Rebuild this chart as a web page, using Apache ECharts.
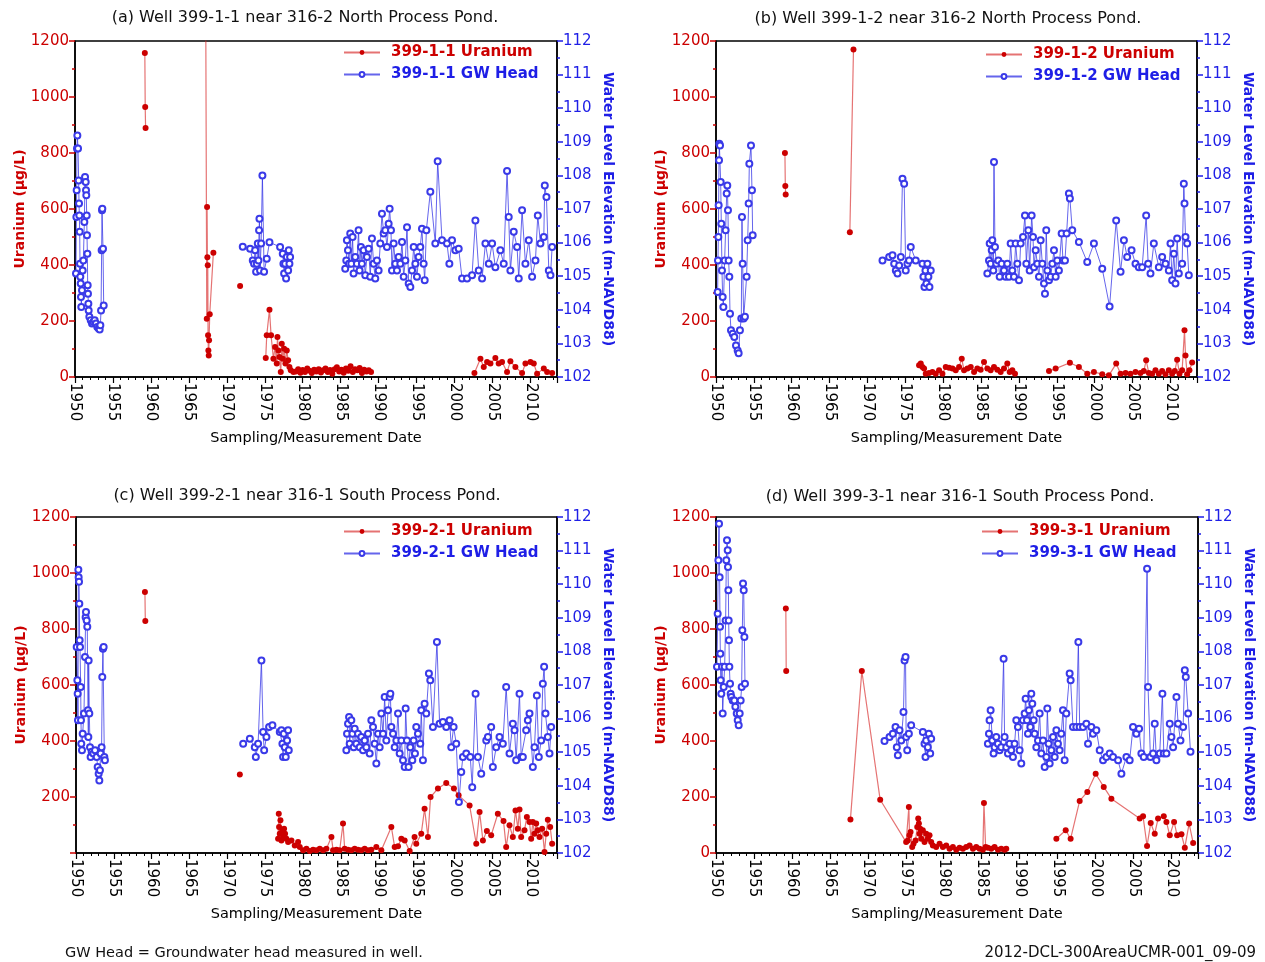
<!DOCTYPE html>
<html><head><meta charset="utf-8">
<script src="https://cdn.jsdelivr.net/npm/echarts@6/dist/echarts.min.js"></script>
<style>html,body{margin:0;padding:0;background:#fff}#c{width:1265px;height:962px}</style>
</head><body><div id="c"></div>
<script>
// ---------- DATA (year, value) ; each inner list is a continuous measured segment ----------
const titles = [
  "(a) Well 399-1-1 near 316-2 North Process Pond.",
  "(b) Well 399-1-2 near 316-2 North Process Pond.",
  "(c) Well 399-2-1 near 316-1 South Process Pond.",
  "(d) Well 399-3-1 near 316-1 South Process Pond."
];
const wells = ["399-1-1", "399-1-2", "399-2-1", "399-3-1"];
const xTicks = [1950,1955,1960,1965,1970,1975,1980,1985,1990,1995,2000,2005,2010];

// Uranium (ug/L)
const uraniumA = [
  [[1959.2,1157],[1959.25,964],[1959.3,889]],
  [[1967.2,1500],[1967.36,208],[1967.4,607],[1967.44,428],[1967.49,399],[1967.53,149],[1967.57,95],[1967.62,77],[1967.66,131],[1967.75,224],[1968.23,444]],
  [[1971.75,325]],
  [[1975.13,68],[1975.26,149],[1975.62,240],[1975.83,149],[1976.14,65],[1976.36,107],[1976.58,48],[1976.67,143],[1976.8,95],[1976.93,71],[1977.11,18],[1977.24,119],[1977.37,65],[1977.55,101],[1977.72,48],[1977.9,95],[1978.08,60],[1978.25,36],[1978.43,24],[1978.78,18],
   [1979.1,20],[1979.4,28],[1979.7,15],[1980.0,25],[1980.3,18],[1980.6,30],[1980.9,22],[1981.2,14],[1981.5,26],[1981.8,20],[1982.1,28],[1982.4,16],[1982.7,24],[1983.0,30],[1983.3,18],[1983.6,25],[1983.9,12],[1984.2,28],[1984.5,35],[1984.8,20],[1985.1,26],[1985.4,15],[1985.7,30],[1986.0,22],[1986.3,38],[1986.6,18],[1986.9,28],[1987.2,24],[1987.5,32],[1987.8,14],[1988.1,26],[1988.4,20],[1988.7,24],[1989.0,18]],
  [[2002.62,14],[2003.41,65],[2003.85,36],[2004.29,54],[2004.73,48],[2005.38,68],[2005.82,48],[2006.26,54],[2006.92,18],[2007.36,56],[2008.02,36],[2008.9,14],[2009.34,48],[2010.0,54],[2010.44,48],[2010.88,12],[2011.76,30],[2012.2,18],[2012.86,14]]
];
const uraniumB = [
  [[1959.1,800],[1959.15,682],[1959.2,652]],
  [[1967.67,517],[1968.15,1170]],
  [[1976.81,42],[1977.03,48],[1977.25,36],[1977.47,30],[1977.69,12],[1978.13,14],[1978.57,18],[1979.01,12],[1979.45,24],[1979.89,12],[1980.33,36],[1980.77,33],[1981.21,30],[1981.65,24],[1982.09,36],[1982.44,65],[1982.75,24],[1983.19,30],[1983.63,36],[1984.07,18],[1984.5,30],[1984.94,26],[1985.38,54],[1985.82,30],[1986.26,24],[1986.7,36],[1987.14,26],[1987.58,18],[1988.02,30],[1988.46,48],[1988.77,18],[1989.12,24],[1989.47,12]],
  [[1993.96,21],[1994.84,30],[1996.72,51],[1997.91,36],[1999.01,12],[1999.89,18],[2000.99,10],[2001.87,6],[2002.83,48],[2003.41,12],[2004.07,14],[2004.72,12],[2005.38,18],[2006.04,14],[2006.48,21],[2006.79,60],[2007.14,14],[2007.58,12],[2008.02,24],[2008.46,12],[2008.9,21],[2009.34,10],[2009.78,24],[2010.22,12],[2010.57,21],[2010.88,62],[2011.19,12],[2011.54,24],[2011.85,167],[2011.98,77],[2012.2,10],[2012.5,24],[2012.86,52]]
];
const uraniumC = [
  [[1959.1,932],[1959.15,829]],
  [[1971.63,280]],
  [[1976.68,51],[1976.77,140],[1976.81,93],[1976.9,69],[1976.99,117],[1977.12,45],[1977.25,81],[1977.34,57],[1977.47,87],[1977.6,69],[1977.78,51],[1978.0,39],[1978.44,45],[1978.88,27],[1979.32,39],[1979.54,21],
   [1979.98,10],[1980.42,15],[1980.86,7],[1981.3,12],[1981.74,10],[1982.18,15],[1982.62,10],[1983.06,15],[1983.72,57],[1983.94,10],[1984.38,12],[1984.81,10],[1985.25,105],[1985.47,15],[1985.91,12],[1986.35,10],[1986.79,15],[1987.23,12],[1987.67,10],[1988.11,15],[1988.55,10],[1988.99,12],[1989.65,21],[1990.31,10],[1991.63,93],[1992.07,21],[1992.51,24],[1992.95,51],[1993.39,45],[1994.05,7],[1994.7,57],[1994.92,33],[1995.58,69],[1996.02,158],[1996.46,57],[1996.81,200],[1997.78,230],[1998.88,250],[1999.89,230],[2000.51,206],[2001.96,170],[2002.84,33],[2003.28,146],[2003.72,45],[2004.24,79],[2004.81,63],[2005.69,140],[2006.44,114],[2006.79,21],[2007.23,99],[2007.67,57],[2008.02,152],[2008.33,87],[2008.55,155],[2008.77,57],[2009.21,81],[2009.52,129],[2009.87,111],[2010.09,51],[2010.31,111],[2010.53,69],[2010.75,105],[2010.97,81],[2011.19,57],[2011.54,87],[2011.85,4],[2012.07,69],[2012.29,119],[2012.6,93],[2012.86,33]]
];
const uraniumD = [
  [[1959.2,873],[1959.25,650]],
  [[1967.71,120],[1969.21,650],[1971.63,190],[1975.05,39],[1975.27,45],[1975.41,164],[1975.49,63],[1975.63,75],[1975.85,21],[1976.02,33],[1976.29,45],[1976.51,93],[1976.64,123],[1976.73,105],[1976.81,69],[1976.9,87],[1977.03,51],[1977.25,81],[1977.47,39],[1977.69,69],[1977.91,51],[1978.13,63],[1978.35,39],[1978.57,27],[1979.01,21],[1979.45,33],[1979.89,21],
   [1980.33,27],[1980.77,15],[1981.21,21],[1981.65,12],[1982.09,19],[1982.53,15],[1982.97,21],[1983.41,27],[1983.85,15],[1984.29,21],[1984.72,15],[1985.16,12],[1985.3,179],[1985.52,21],[1985.82,19],[1986.26,15],[1986.7,21],[1987.14,12],[1987.58,15],[1988.02,12],[1988.24,15]],
  [[1994.84,51],[1996.07,81],[1996.72,51],[1997.91,186],[1998.92,218],[2000.02,283],[2001.08,236],[2002.09,194],[2005.82,123],[2006.26,131],[2006.79,25],[2007.27,107],[2007.8,69],[2008.24,123],[2008.99,131],[2009.34,111],[2009.78,63],[2010.35,111],[2010.75,63],[2011.32,67],[2011.76,19],[2012.33,105],[2012.86,36]]
];

// Groundwater head (m-NAVD88)
const headA = [
  [[1950.13,105.08],[1950.18,106.76],[1950.22,107.56],[1950.26,108.8],[1950.31,109.19],[1950.4,108.8],[1950.48,107.85],[1950.53,107.16],[1950.57,106.81],[1950.62,106.32],[1950.66,105.37],[1950.7,104.98],[1950.75,104.78],[1950.79,104.38],[1950.83,104.08],[1950.92,104.58],[1951.01,105.17],[1951.1,105.47],[1951.23,106.61],[1951.32,107.95],[1951.41,107.8],[1951.45,107.56],[1951.49,107.41],[1951.54,106.81],[1951.58,106.22],[1951.63,105.67],[1951.67,104.73],[1951.71,104.48],[1951.76,104.18],[1951.8,103.98],[1951.89,103.79],[1952.07,103.69],[1952.24,103.59],[1952.42,103.64],[1952.59,103.69],[1952.77,103.59],[1952.94,103.49],[1953.12,103.44],[1953.25,103.41],[1953.34,103.54],[1953.43,103.98],[1953.51,105.77],[1953.56,106.96],[1953.6,107.01],[1953.69,105.82],[1953.78,104.13]],
  [[1972.1,105.88],[1973.07,105.82],[1973.42,105.47],[1973.59,105.37],[1973.73,105.77],[1973.86,105.13],[1973.95,105.37],[1974.08,105.97],[1974.17,105.47],[1974.25,106.37],[1974.3,106.71],[1974.38,105.17],[1974.52,105.97],[1974.69,108.0],[1974.91,105.13],[1975.26,105.52],[1975.62,106.01],[1977.02,105.87],[1977.37,105.67],[1977.46,105.37],[1977.55,105.08],[1977.68,105.37],[1977.81,104.93],[1977.9,105.57],[1978.08,105.17],[1978.16,105.77],[1978.25,105.37],[1978.34,105.57]],
  [[1985.6,105.22],[1985.74,105.47],[1985.82,106.07],[1985.96,105.77],[1986.09,105.37],[1986.26,106.27],[1986.4,105.37],[1986.57,106.17],[1986.7,105.08],[1986.92,105.57],[1987.14,105.37],[1987.36,106.37],[1987.49,105.17],[1987.67,105.87],[1987.8,105.37],[1988.02,105.77],[1988.24,105.03],[1988.46,105.57],[1988.68,105.82],[1988.9,104.98],[1989.12,106.12],[1989.34,105.37],[1989.56,104.93],[1989.78,105.47],[1990.0,105.17],[1990.22,105.97],[1990.44,106.86],[1990.66,106.27],[1990.88,106.37],[1991.1,105.87],[1991.32,106.56],[1991.45,107.01],[1991.63,106.37],[1991.76,105.17],[1991.98,105.97],[1992.2,105.37],[1992.42,105.17],[1992.64,105.57],[1992.86,105.37],[1993.08,106.02],[1993.3,104.98],[1993.52,105.47],[1993.74,106.46],[1993.96,104.78],[1994.18,104.68],[1994.4,105.17],[1994.62,105.87],[1994.84,105.37],[1995.05,104.98],[1995.27,105.57],[1995.49,105.87],[1995.71,106.41],[1995.93,105.37],[1996.07,104.88],[1996.29,106.37],[1996.81,107.51],[1997.47,105.97],[1997.78,108.42],[1998.35,106.07],[1999.01,105.97],[1999.32,105.37],[1999.67,106.07],[2000.11,105.77],[2000.55,105.82],[2000.99,104.93],[2001.65,104.93],[2002.31,105.03],[2002.75,106.66],[2003.19,105.17],[2003.63,104.93],[2004.07,105.97],[2004.51,105.37],[2004.95,105.97],[2005.38,105.27],[2006.04,105.77],[2006.48,105.37],[2006.92,108.13],[2007.14,106.76],[2007.36,105.17],[2007.8,106.32],[2008.24,105.87],[2008.46,104.93],[2008.9,106.96],[2009.34,105.37],[2009.78,106.07],[2010.22,104.98],[2010.66,105.47],[2010.97,106.81],[2011.32,105.97],[2011.76,106.17],[2011.89,107.7],[2012.11,107.36],[2012.42,105.17],[2012.64,105.03],[2012.86,105.87]]
];
const headB = [
  [[1950.22,104.53],[1950.26,105.47],[1950.31,106.17],[1950.35,107.11],[1950.4,108.45],[1950.44,108.94],[1950.53,108.89],[1950.62,107.8],[1950.7,106.56],[1950.79,105.17],[1950.88,104.38],[1950.97,104.08],[1951.14,105.47],[1951.27,106.37],[1951.41,107.46],[1951.49,107.7],[1951.58,106.96],[1951.67,105.47],[1951.76,104.98],[1951.85,103.88],[1951.98,103.39],[1952.2,103.29],[1952.42,103.19],[1952.64,102.94],[1952.86,102.79],[1952.99,102.71],[1953.16,103.39],[1953.34,103.74],[1953.43,106.76],[1953.52,105.37],[1953.65,103.74],[1953.82,103.79],[1954.04,104.98],[1954.18,106.07],[1954.31,107.16],[1954.4,108.35],[1954.62,108.89],[1954.75,107.56],[1954.84,106.22]],
  [[1971.98,105.47],[1972.86,105.57],[1973.3,105.62],[1973.52,105.37],[1973.74,105.17],[1973.96,105.08],[1974.18,105.32],[1974.4,105.57],[1974.62,107.9],[1974.84,107.75],[1975.05,105.17],[1975.27,105.37],[1975.49,105.47],[1975.71,105.87],[1976.37,105.47],[1977.25,105.37],[1977.38,104.98],[1977.52,104.68],[1977.65,105.17],[1977.78,104.78],[1977.91,105.37],[1978.04,104.98],[1978.18,104.68],[1978.35,105.17]],
  [[1985.82,105.08],[1986.04,105.47],[1986.13,105.97],[1986.26,105.37],[1986.4,105.77],[1986.48,106.07],[1986.61,105.17],[1986.7,108.4],[1986.83,105.87],[1987.01,105.37],[1987.27,105.47],[1987.45,104.98],[1987.71,105.37],[1988.02,105.17],[1988.24,104.98],[1988.46,105.37],[1988.68,104.98],[1988.9,105.97],[1989.12,105.17],[1989.34,104.98],[1989.56,105.97],[1989.78,105.37],[1990.0,104.88],[1990.22,105.97],[1990.53,106.17],[1990.79,106.81],[1990.97,105.37],[1991.23,106.37],[1991.41,105.17],[1991.67,106.81],[1991.85,106.17],[1991.98,105.27],[1992.2,105.77],[1992.42,105.37],[1992.64,104.98],[1992.86,106.07],[1993.08,105.37],[1993.3,104.78],[1993.43,104.48],[1993.6,106.37],[1993.74,105.17],[1993.96,104.88],[1994.18,104.98],[1994.4,105.37],[1994.62,105.77],[1994.84,104.98],[1995.05,105.47],[1995.27,105.17],[1995.63,106.27],[1995.8,105.47],[1996.07,105.47],[1996.29,106.27],[1996.59,107.46],[1996.72,107.31],[1997.03,106.37],[1997.91,106.02],[1999.01,105.42],[1999.89,105.97],[2000.99,105.22],[2001.96,104.1],[2002.83,106.66],[2003.41,105.13],[2003.85,106.07],[2004.28,105.57],[2004.86,105.77],[2005.38,105.37],[2005.82,105.27],[2006.26,105.27],[2006.79,106.81],[2007.05,105.37],[2007.36,105.08],[2007.8,105.97],[2008.46,105.27],[2008.9,105.57],[2009.34,105.37],[2009.78,105.17],[2010.0,105.97],[2010.22,104.88],[2010.44,105.67],[2010.66,104.78],[2010.88,106.12],[2011.1,105.08],[2011.54,105.37],[2011.76,107.75],[2011.85,107.16],[2011.98,106.17],[2012.2,105.97],[2012.42,105.03]]
];
const headC = [
  [[1950.09,108.13],[1950.18,107.14],[1950.22,106.74],[1950.26,105.95],[1950.31,110.43],[1950.35,110.21],[1950.4,110.07],[1950.44,109.42],[1950.48,108.33],[1950.53,108.13],[1950.62,106.94],[1950.66,105.95],[1950.7,105.25],[1950.79,105.06],[1950.88,105.55],[1951.05,106.15],[1951.19,107.83],[1951.27,109.02],[1951.32,109.17],[1951.41,108.92],[1951.49,108.73],[1951.58,106.25],[1951.63,105.45],[1951.67,107.73],[1951.76,106.15],[1951.85,105.15],[1951.93,104.86],[1952.07,105.01],[1952.29,104.96],[1952.51,105.06],[1952.73,104.86],[1952.86,104.56],[1952.99,104.36],[1953.08,104.16],[1953.16,104.46],[1953.25,104.96],[1953.38,105.15],[1953.47,107.24],[1953.56,108.08],[1953.65,108.13],[1953.74,104.86],[1953.82,104.76]],
  [[1972.07,105.25],[1972.95,105.4],[1973.6,105.15],[1973.74,104.86],[1974.04,105.25],[1974.48,107.73],[1974.7,105.6],[1974.84,105.06],[1975.14,105.45],[1975.49,105.75],[1975.93,105.8],[1976.9,105.6],[1977.12,105.65],[1977.25,105.25],[1977.34,104.86],[1977.43,105.55],[1977.56,105.15],[1977.69,104.86],[1977.87,105.35],[1978.0,105.65],[1978.09,105.06]],
  [[1985.69,105.06],[1985.78,105.55],[1985.91,105.85],[1986.05,106.05],[1986.13,105.25],[1986.35,105.95],[1986.49,105.55],[1986.66,105.15],[1986.79,105.7],[1987.01,105.25],[1987.23,105.55],[1987.45,105.15],[1987.67,105.45],[1987.89,105.06],[1988.11,105.35],[1988.33,105.15],[1988.55,105.55],[1988.77,104.96],[1988.99,105.95],[1989.21,105.75],[1989.43,105.25],[1989.65,104.66],[1989.87,105.55],[1990.09,105.15],[1990.31,106.15],[1990.53,105.55],[1990.75,106.64],[1990.97,105.35],[1991.19,106.25],[1991.41,106.64],[1991.5,106.74],[1991.63,105.75],[1991.85,105.55],[1992.07,105.15],[1992.29,105.35],[1992.51,106.15],[1992.73,104.96],[1992.95,105.35],[1993.17,104.76],[1993.39,104.56],[1993.52,106.3],[1993.69,105.35],[1993.91,104.56],[1994.13,105.15],[1994.4,104.76],[1994.57,105.35],[1994.75,104.96],[1994.92,105.75],[1995.14,105.55],[1995.45,105.25],[1995.58,106.25],[1995.8,104.76],[1996.02,106.44],[1996.24,106.15],[1996.59,107.34],[1996.77,107.14],[1997.12,105.75],[1997.65,108.28],[1998.0,105.85],[1998.44,105.9],[1998.88,105.75],[1999.32,105.95],[1999.54,105.15],[1999.85,105.75],[2000.2,105.25],[2000.55,103.52],[2000.86,104.41],[2001.08,104.86],[2001.52,104.96],[2002.05,104.86],[2002.31,103.96],[2002.75,106.74],[2003.06,104.86],[2003.5,104.36],[2004.16,105.35],[2004.38,105.45],[2004.81,105.75],[2005.03,104.56],[2005.47,105.15],[2005.91,105.45],[2006.35,105.25],[2006.79,106.94],[2007.23,104.96],[2007.67,105.85],[2007.89,105.65],[2008.11,104.76],[2008.55,106.74],[2008.77,104.86],[2008.99,104.86],[2009.43,105.65],[2009.65,105.95],[2009.87,106.15],[2010.31,104.56],[2010.53,105.15],[2010.84,106.69],[2011.1,104.86],[2011.41,105.35],[2011.63,107.04],[2011.8,107.54],[2011.98,106.15],[2012.29,105.45],[2012.51,104.96],[2012.73,105.75]]
];
const headD = [
  [[1950.13,107.54],[1950.22,109.12],[1950.31,110.71],[1950.4,111.8],[1950.48,110.21],[1950.53,108.73],[1950.57,107.93],[1950.62,107.14],[1950.7,106.74],[1950.79,107.54],[1950.88,106.15],[1951.01,106.94],[1951.14,107.54],[1951.27,108.92],[1951.36,110.71],[1951.45,111.31],[1951.54,111.01],[1951.58,110.51],[1951.63,109.82],[1951.67,108.92],[1951.71,108.33],[1951.76,107.54],[1951.85,107.04],[1951.93,106.74],[1952.02,106.64],[1952.2,106.54],[1952.42,106.54],[1952.55,106.35],[1952.73,106.15],[1952.86,105.95],[1952.99,105.8],[1953.12,106.15],[1953.25,106.54],[1953.38,106.94],[1953.47,108.63],[1953.56,110.02],[1953.65,109.82],[1953.74,108.43],[1953.82,107.04]],
  [[1972.2,105.33],[1972.86,105.45],[1973.3,105.55],[1973.65,105.75],[1973.82,105.15],[1973.96,104.91],[1974.18,105.65],[1974.4,105.35],[1974.7,106.2],[1974.84,107.73],[1974.97,107.83],[1975.05,105.45],[1975.19,105.06],[1975.41,105.55],[1975.71,105.8],[1977.25,105.6],[1977.47,105.25],[1977.6,104.86],[1977.69,105.35],[1977.91,105.15],[1978.04,105.55],[1978.22,104.96],[1978.35,105.4]],
  [[1985.82,105.25],[1985.96,105.55],[1986.04,105.95],[1986.18,106.25],[1986.4,105.35],[1986.57,104.96],[1986.7,105.15],[1986.92,105.45],[1987.14,105.25],[1987.36,105.06],[1987.58,105.15],[1987.89,107.78],[1988.02,105.45],[1988.24,105.15],[1988.46,104.96],[1988.68,105.25],[1988.9,105.06],[1989.12,104.86],[1989.34,105.25],[1989.56,105.95],[1989.78,105.75],[1990.0,105.06],[1990.22,104.66],[1990.44,105.95],[1990.66,106.15],[1990.79,106.59],[1990.97,105.95],[1991.1,105.55],[1991.23,106.25],[1991.41,105.75],[1991.54,106.74],[1991.67,106.44],[1991.85,105.95],[1991.98,105.55],[1992.2,105.15],[1992.42,105.35],[1992.64,106.15],[1992.86,104.96],[1993.08,105.35],[1993.3,104.56],[1993.52,104.86],[1993.65,106.3],[1993.82,105.25],[1993.96,104.66],[1994.18,105.06],[1994.4,105.45],[1994.62,104.86],[1994.84,105.65],[1995.05,105.25],[1995.27,105.06],[1995.49,105.55],[1995.71,106.25],[1995.93,104.76],[1996.15,106.15],[1996.59,107.34],[1996.72,107.14],[1997.03,105.75],[1997.47,105.75],[1997.74,108.28],[1997.91,105.75],[1998.35,105.75],[1998.79,105.85],[1999.01,105.25],[1999.45,105.75],[1999.67,105.55],[2000.11,105.65],[2000.55,105.06],[2000.99,104.76],[2001.43,104.86],[2001.87,104.96],[2002.31,104.86],[2002.97,104.76],[2003.41,104.36],[2004.07,104.86],[2004.5,104.76],[2004.94,105.75],[2005.38,105.55],[2005.74,105.7],[2006.04,104.96],[2006.35,104.86],[2006.79,110.46],[2006.92,106.94],[2007.23,104.86],[2007.58,104.96],[2007.8,105.85],[2008.02,104.76],[2008.46,104.96],[2008.81,106.74],[2008.99,104.96],[2009.34,104.96],[2009.78,105.85],[2010.0,105.45],[2010.22,105.15],[2010.66,106.64],[2010.88,105.85],[2011.19,105.35],[2011.54,105.75],[2011.76,107.44],[2011.89,107.24],[2012.2,106.15],[2012.51,105.01]]
];

// ---------- LAYOUT / STYLE ----------
const FONT = "'DejaVu Sans', sans-serif";
const RED = '#cc0000', BLUE = '#1e1ee6';
const panels = [
  {u: uraniumA, h: headA, grid: {left: 75, top: 41, width: 482, height: 336}, tx: 305, ty: 18, lg: [343, 45], hideZero: false},
  {u: uraniumB, h: headB, grid: {left: 716, top: 41, width: 481, height: 336}, tx: 948, ty: 19, lg: [985, 47], hideZero: false},
  {u: uraniumC, h: headC, grid: {left: 76, top: 517, width: 481, height: 336}, tx: 307, ty: 496, lg: [343, 524], hideZero: true},
  {u: uraniumD, h: headD, grid: {left: 716, top: 517, width: 482, height: 336}, tx: 960, ty: 497, lg: [981, 524], hideZero: false}
];

function joinSegs(segs) {
  const out = [];
  segs.forEach((s, i) => {
    if (i > 0) {
      const prev = segs[i - 1][segs[i - 1].length - 1][0];
      out.push([(prev + s[0][0]) / 2, '-']);
    }
    s.forEach(p => out.push(p));
  });
  return out;
}

const grid = [], xAxis = [], yAxis = [], series = [], legend = [], graphic = [];
panels.forEach((p, i) => {
  grid.push(Object.assign({show: true, borderColor: '#000', borderWidth: 1.5, backgroundColor: 'transparent'}, p.grid));
  const xMain = {
    type: 'value', gridIndex: i, min: 1950, max: 2013.5, interval: 5,
    axisLine: {onZero: false, lineStyle: {color: '#000', width: 1.5}},
    axisTick: {length: 6, lineStyle: {color: '#000', width: 1.2}},
    splitLine: {show: false},
    axisLabel: {rotate: -90, color: '#000', fontSize: 15, fontFamily: FONT, margin: 6,
      formatter: v => xTicks.indexOf(v) >= 0 ? String(v) : ''},
    name: 'Sampling/Measurement Date', nameLocation: 'middle', nameGap: 54,
    nameTextStyle: {color: '#000', fontSize: 14.5, fontFamily: FONT}
  };
  const xMinor = {
    type: 'value', gridIndex: i, min: 1950, max: 2013.5, interval: 1, position: 'bottom',
    axisLine: {show: false}, axisLabel: {show: false}, splitLine: {show: false},
    axisTick: {length: 3, lineStyle: {color: '#000', width: 1}}
  };
  xAxis.push(xMain, xMinor);
  yAxis.push({
    type: 'value', gridIndex: i, position: 'left', min: 0, max: 1200, interval: 200,
    axisLine: {show: true, onZero: false, lineStyle: {color: '#000', width: 1.5}},
    axisTick: {show: true, length: 6, lineStyle: {color: RED, width: 1.5}},
    minorTick: {show: true, splitNumber: 2, length: 3, lineStyle: {color: RED, width: 1.5}},
    splitLine: {show: false}, minorSplitLine: {show: false},
    axisLabel: {color: RED, fontSize: 15, fontFamily: FONT, margin: 6, showMinLabel: !p.hideZero,
      formatter: v => String(v)},
    name: 'Uranium (μg/L)', nameLocation: 'middle', nameRotate: 90, nameGap: 48,
    nameTextStyle: {color: RED, fontSize: 14, fontWeight: 'bold', fontFamily: FONT}
  });
  yAxis.push({
    type: 'value', gridIndex: i, position: 'right', min: 102, max: 112, interval: 1,
    axisLine: {show: true, onZero: false, lineStyle: {color: '#000', width: 1.5}},
    axisTick: {show: true, length: 6, lineStyle: {color: BLUE, width: 1.5}},
    minorTick: {show: true, splitNumber: 2, length: 3, lineStyle: {color: BLUE, width: 1.5}},
    splitLine: {show: false}, minorSplitLine: {show: false},
    axisLabel: {color: BLUE, fontSize: 15, fontFamily: FONT, margin: 6, formatter: v => String(v)},
    name: 'Water Level Elevation (m-NAVD88)', nameLocation: 'middle', nameRotate: -90, nameGap: 44,
    nameTextStyle: {color: BLUE, fontSize: 14, fontWeight: 'bold', fontFamily: FONT}
  });
  const uName = wells[i] + ' Uranium', hName = wells[i] + ' GW Head';
  series.push({
    name: uName, type: 'line', xAxisIndex: 2 * i, yAxisIndex: 2 * i,
    data: joinSegs(p.u), connectNulls: false, clip: true,
    symbol: 'circle', symbolSize: 6, showAllSymbol: true,
    itemStyle: {color: RED},
    lineStyle: {color: 'rgba(215,40,40,0.65)', width: 1.2},
    z: 2
  });
  series.push({
    name: hName, type: 'line', xAxisIndex: 2 * i, yAxisIndex: 2 * i + 1,
    data: joinSegs(p.h), connectNulls: false, clip: true,
    symbol: 'emptyCircle', symbolSize: 6, showAllSymbol: true,
    itemStyle: {color: '#3a3ae8', borderWidth: 1.1},
    lineStyle: {color: 'rgba(50,50,230,0.75)', width: 1},
    z: 3
  });
  legend.push({
    orient: 'vertical', left: p.lg[0], top: p.lg[1], itemWidth: 36, itemHeight: 6, itemGap: 7,
    selectedMode: false, padding: 0,
    textStyle: {fontSize: 15, fontFamily: FONT, fontWeight: 'bold', padding: [0, 0, 0, 6]},
    data: [{name: uName, textStyle: {color: RED}}, {name: hName, textStyle: {color: BLUE}}]
  });
  graphic.push({
    type: 'text', x: p.tx, y: p.ty,
    style: {text: titles[i], fill: '#111', font: '16px ' + FONT, align: 'center', verticalAlign: 'middle', textAlign: 'center', textVerticalAlign: 'middle'}
  });
});
graphic.push({
  type: 'text', x: 65, y: 953,
  style: {text: 'GW Head = Groundwater head measured in well.', fill: '#111', font: '14.5px ' + FONT, align: 'left', verticalAlign: 'middle', textAlign: 'left', textVerticalAlign: 'middle'}
});
graphic.push({
  type: 'text', x: 1256, y: 953,
  style: {text: '2012-DCL-300AreaUCMR-001_09-09', fill: '#111', font: '15px ' + FONT, align: 'right', verticalAlign: 'middle', textAlign: 'right', textVerticalAlign: 'middle'}
});

const chart = echarts.init(document.getElementById('c'), null, {renderer: 'canvas'});
chart.setOption({
  animation: false, backgroundColor: '#fff',
  grid, xAxis, yAxis, series, legend, graphic
});
</script>
</body></html>
